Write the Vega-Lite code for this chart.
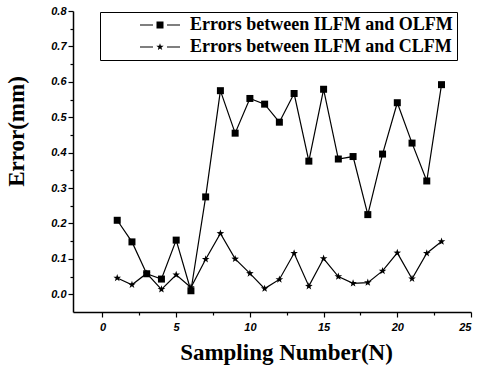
{
  "$schema": "https://vega.github.io/schema/vega-lite/v6.json",
  "width": 398,
  "height": 301,
  "autosize": "none",
  "padding": {"left": 73, "top": 11, "right": 19, "bottom": 57},
  "background": "white",
  "config": {
    "view": {"stroke": null},
    "axis": {
      "domainColor": "black",
      "domainWidth": 1.5,
      "tickColor": "black",
      "tickWidth": 1.2,
      "grid": false,
      "labelFont": "Liberation Sans",
      "labelFontStyle": "italic",
      "labelFontWeight": "bold",
      "labelFontSize": 11,
      "labelColor": "black",
      "titleFont": "Liberation Serif",
      "titleFontWeight": "bold",
      "titleFontSize": 23,
      "titleColor": "black"
    }
  },
  "data": {
    "values": [
      {"n": 1, "error": 0.209, "series": "Errors between ILFM and OLFM"},
      {"n": 2, "error": 0.148, "series": "Errors between ILFM and OLFM"},
      {"n": 3, "error": 0.058, "series": "Errors between ILFM and OLFM"},
      {"n": 4, "error": 0.043, "series": "Errors between ILFM and OLFM"},
      {"n": 5, "error": 0.153, "series": "Errors between ILFM and OLFM"},
      {"n": 6, "error": 0.010, "series": "Errors between ILFM and OLFM"},
      {"n": 7, "error": 0.275, "series": "Errors between ILFM and OLFM"},
      {"n": 8, "error": 0.575, "series": "Errors between ILFM and OLFM"},
      {"n": 9, "error": 0.455, "series": "Errors between ILFM and OLFM"},
      {"n": 10, "error": 0.553, "series": "Errors between ILFM and OLFM"},
      {"n": 11, "error": 0.537, "series": "Errors between ILFM and OLFM"},
      {"n": 12, "error": 0.486, "series": "Errors between ILFM and OLFM"},
      {"n": 13, "error": 0.567, "series": "Errors between ILFM and OLFM"},
      {"n": 14, "error": 0.376, "series": "Errors between ILFM and OLFM"},
      {"n": 15, "error": 0.579, "series": "Errors between ILFM and OLFM"},
      {"n": 16, "error": 0.382, "series": "Errors between ILFM and OLFM"},
      {"n": 17, "error": 0.389, "series": "Errors between ILFM and OLFM"},
      {"n": 18, "error": 0.225, "series": "Errors between ILFM and OLFM"},
      {"n": 19, "error": 0.396, "series": "Errors between ILFM and OLFM"},
      {"n": 20, "error": 0.541, "series": "Errors between ILFM and OLFM"},
      {"n": 21, "error": 0.427, "series": "Errors between ILFM and OLFM"},
      {"n": 22, "error": 0.320, "series": "Errors between ILFM and OLFM"},
      {"n": 23, "error": 0.592, "series": "Errors between ILFM and OLFM"},
      {"n": 1, "error": 0.046, "series": "Errors between ILFM and CLFM"},
      {"n": 2, "error": 0.027, "series": "Errors between ILFM and CLFM"},
      {"n": 3, "error": 0.059, "series": "Errors between ILFM and CLFM"},
      {"n": 4, "error": 0.014, "series": "Errors between ILFM and CLFM"},
      {"n": 5, "error": 0.055, "series": "Errors between ILFM and CLFM"},
      {"n": 6, "error": 0.019, "series": "Errors between ILFM and CLFM"},
      {"n": 7, "error": 0.099, "series": "Errors between ILFM and CLFM"},
      {"n": 8, "error": 0.172, "series": "Errors between ILFM and CLFM"},
      {"n": 9, "error": 0.100, "series": "Errors between ILFM and CLFM"},
      {"n": 10, "error": 0.059, "series": "Errors between ILFM and CLFM"},
      {"n": 11, "error": 0.016, "series": "Errors between ILFM and CLFM"},
      {"n": 12, "error": 0.042, "series": "Errors between ILFM and CLFM"},
      {"n": 13, "error": 0.116, "series": "Errors between ILFM and CLFM"},
      {"n": 14, "error": 0.023, "series": "Errors between ILFM and CLFM"},
      {"n": 15, "error": 0.101, "series": "Errors between ILFM and CLFM"},
      {"n": 16, "error": 0.050, "series": "Errors between ILFM and CLFM"},
      {"n": 17, "error": 0.031, "series": "Errors between ILFM and CLFM"},
      {"n": 18, "error": 0.033, "series": "Errors between ILFM and CLFM"},
      {"n": 19, "error": 0.066, "series": "Errors between ILFM and CLFM"},
      {"n": 20, "error": 0.117, "series": "Errors between ILFM and CLFM"},
      {"n": 21, "error": 0.044, "series": "Errors between ILFM and CLFM"},
      {"n": 22, "error": 0.116, "series": "Errors between ILFM and CLFM"},
      {"n": 23, "error": 0.149, "series": "Errors between ILFM and CLFM"}
    ]
  },
  "encoding": {
    "x": {
      "field": "n",
      "type": "quantitative",
      "scale": {"domain": [-2, 25], "nice": false, "zero": false},
      "axis": {
        "title": "Sampling Number(N)",
        "values": [0, 2.5, 5, 7.5, 10, 12.5, 15, 17.5, 20, 22.5, 25],
        "labelExpr": "datum.value % 5 === 0 ? format(datum.value, 'd') : ''",
        "labelOverlap": false,
        "labelPadding": 4,
        "tickSize": {"condition": {"test": "datum.value % 5 !== 0", "value": 3}, "value": 5},
        "titleAnchor": "start",
        "titleAlign": "center",
        "titleBaseline": "alphabetic",
        "titleX": 213,
        "titleY": 47
      }
    },
    "y": {
      "field": "error",
      "type": "quantitative",
      "scale": {"domain": [-0.05, 0.8], "nice": false, "zero": false},
      "axis": {
        "title": "Error(mm)",
        "values": [0, 0.05, 0.1, 0.15, 0.2, 0.25, 0.3, 0.35, 0.4, 0.45, 0.5, 0.55, 0.6, 0.65, 0.7, 0.75, 0.8],
        "labelExpr": "round(datum.value * 100) % 10 === 0 ? format(datum.value, '.1f') : ''",
        "labelOverlap": false,
        "labelPadding": 2,
        "tickSize": {"condition": {"test": "round(datum.value * 100) % 10 !== 0", "value": 3}, "value": 5},
        "titleAngle": 270,
        "titleAlign": "center",
        "titleBaseline": "alphabetic",
        "titleX": -50,
        "titleY": 120
      }
    }
  },
  "layer": [
    {
      "mark": {"type": "line", "color": "black", "strokeWidth": 1.2},
      "encoding": {"detail": {"field": "series"}}
    },
    {
      "mark": {"type": "point", "filled": true, "color": "black", "opacity": 1},
      "encoding": {
        "shape": {
          "field": "series",
          "type": "nominal",
          "scale": {
            "domain": ["Errors between ILFM and OLFM", "Errors between ILFM and CLFM"],
            "range": ["square", "M0,-1L0.235,-0.324L0.951,-0.309L0.38,0.124L0.588,0.809L0,0.4L-0.588,0.809L-0.38,0.124L-0.951,-0.309L-0.235,-0.324Z"]
          },
          "legend": null
        },
        "size": {
          "condition": {"test": "datum.series === 'Errors between ILFM and OLFM'", "value": 49},
          "value": 64
        }
      }
    },
    {
      "mark": {"type": "point", "filled": true, "color": "black", "opacity": 0},
      "encoding": {
        "shape": {
          "field": "series",
          "type": "nominal",
          "scale": {
            "domain": ["Errors between ILFM and OLFM", "Errors between ILFM and CLFM"],
            "range": [
              "M-2.86,-0.08H-1V0.08H-2.86ZM-0.5,-0.5H0.5V0.5H-0.5ZM1,-0.08H2.86V0.08H1Z",
              "M-2.86,-0.08H-1V0.08H-2.86ZM1,-0.08H2.86V0.08H1ZM0,-0.55L0.129,-0.178L0.523,-0.17L0.209,0.068L0.323,0.445L0,0.22L-0.323,0.445L-0.209,0.068L-0.523,-0.17L-0.129,-0.178Z"
            ]
          },
          "legend": {
            "title": null,
            "orient": "none",
            "legendX": 27,
            "legendY": 1,
            "padding": 4,
            "strokeColor": "black",
            "fillColor": "white",
            "symbolSize": 196,
            "symbolOffset": 47,
            "symbolOpacity": 1,
            "symbolFillColor": "black",
            "symbolStrokeColor": "black",
            "symbolStrokeWidth": 0.5,
            "labelOffset": 21,
            "labelFont": "Liberation Serif",
            "labelFontWeight": "bold",
            "labelFontSize": 18,
            "labelColor": "black",
            "labelLimit": 600,
            "rowPadding": 4,
            "labelExpr": "datum.label + '\u00a0\u00a0\u00a0\u00a0\u00a0\u00a0\u00a0\u00a0\u00a0\u00a0\u00a0\u00a0\u00a0\u00a0\u00a0\u00a0'",
            "encode": {
              "legend": {
                "strokeWidth": {"value": 1.5}
              }
            }
          }
        }
      }
    }
  ],
  "resolve": {"scale": {"shape": "independent"}, "legend": {"shape": "independent"}}
}
